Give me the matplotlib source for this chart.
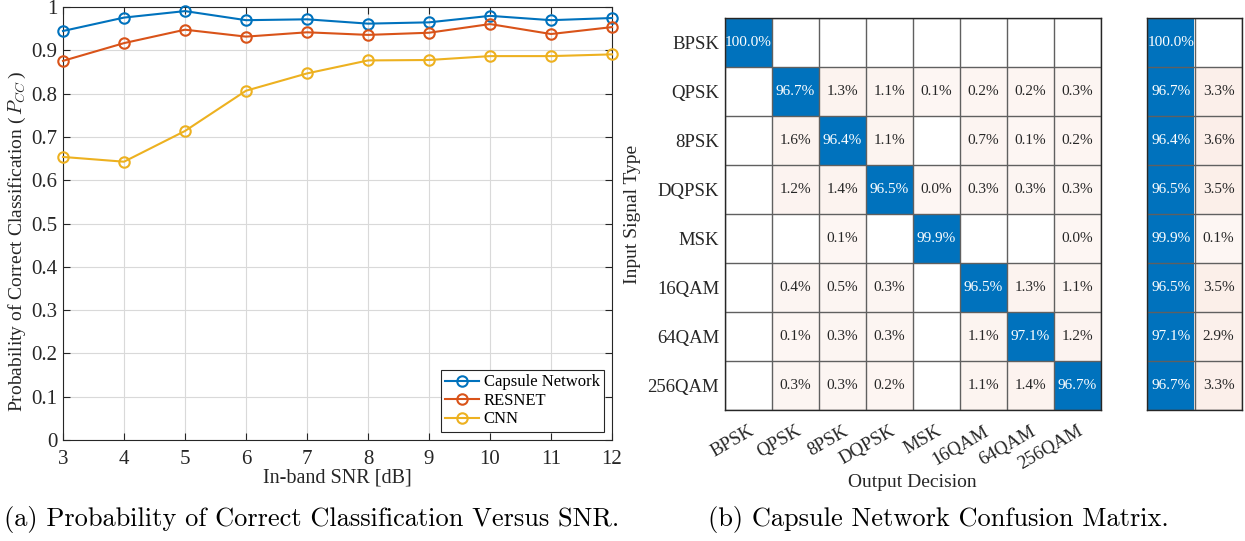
import numpy as np
import matplotlib.pyplot as plt
from matplotlib.colors import to_rgb
from matplotlib.ticker import FuncFormatter

# accuracy versus SNR
snr = [3, 4, 5, 6, 7, 8, 9, 10, 11, 12]
capsule = [0.945, 0.976, 0.991, 0.970, 0.972, 0.962, 0.965, 0.980, 0.970, 0.975]
resnet = [0.876, 0.917, 0.948, 0.932, 0.942, 0.936, 0.941, 0.961, 0.938, 0.954]
cnn = [0.654, 0.643, 0.714, 0.807, 0.847, 0.877, 0.878, 0.887, 0.887, 0.891]

# confusion matrix (percent of each input class), nan = no samples
classes = ['BPSK', 'QPSK', '8PSK', 'DQPSK', 'MSK', '16QAM', '64QAM', '256QAM']
n = np.nan
conf = np.array([
    [100.0, n, n, n, n, n, n, n],
    [n, 96.7, 1.3, 1.1, 0.1, 0.2, 0.2, 0.3],
    [n, 1.6, 96.4, 1.1, n, 0.7, 0.1, 0.2],
    [n, 1.2, 1.4, 96.5, 0.0, 0.3, 0.3, 0.3],
    [n, n, 0.1, n, 99.9, n, n, 0.0],
    [n, 0.4, 0.5, 0.3, n, 96.5, 1.3, 1.1],
    [n, 0.1, 0.3, 0.3, n, 1.1, 97.1, 1.2],
    [n, 0.3, 0.3, 0.2, n, 1.1, 1.4, 96.7],
])
row_correct = [100.0, 96.7, 96.4, 96.5, 99.9, 96.5, 97.1, 96.7]
row_wrong = [n, 3.3, 3.6, 3.5, 0.1, 3.5, 2.9, 3.3]

BLUE = '#0072BD'
ORANGE = '#D95319'
YELLOW = '#EDB120'
AXC = '#262626'

plt.rcParams['font.family'] = ['Liberation Serif', 'DejaVu Serif']
plt.rcParams['mathtext.fontset'] = 'cm'

fig = plt.figure(figsize=(12.45, 5.41), dpi=100)

# ---- (a) line plot ----
ax1 = fig.add_axes([0.0506, 0.1867, 0.441, 0.800])
for y, c, lab in [(capsule, BLUE, 'Capsule Network'),
                  (resnet, ORANGE, 'RESNET'),
                  (cnn, YELLOW, 'CNN')]:
    ax1.plot(snr, y, '-o', color=c, lw=1.5, ms=7.5, mfc='none', mew=1.5,
             label=lab, clip_on=False, zorder=3)
ax1.set_xlim(3, 12)
ax1.set_ylim(0, 1)
ax1.set_xticks(snr)
ax1.set_yticks(np.arange(0, 1.01, 0.1))
ax1.yaxis.set_major_formatter(FuncFormatter(lambda v, p: f'{v:g}'))
ax1.grid(True, color='#d9d9d9', lw=0.8)
ax1.set_axisbelow(True)
ax1.tick_params(direction='in', top=True, right=True, length=5, width=0.8,
                labelsize=15, colors=AXC)
ax1.tick_params(axis='x', pad=7)
ax1.tick_params(axis='y', pad=4)
for s in ax1.spines.values():
    s.set_color(AXC)
    s.set_linewidth(0.8)
ax1.set_xlabel('In-band SNR [dB]', fontsize=14.5, color=AXC, labelpad=0)
ax1.set_ylabel(r'Probability of Correct Classification ($\,P_{CC}\,$)',
               fontsize=14, color=AXC)
ax1.yaxis.set_label_coords(-0.063, 0.46)
leg = ax1.legend(loc='lower right', fontsize=12, handlelength=2.0,
                 handletextpad=0.3, borderpad=0.25, labelspacing=0.15,
                 fancybox=False, framealpha=1, borderaxespad=0.5)
leg.get_frame().set_edgecolor(AXC)
leg.get_frame().set_linewidth(0.8)


def cell_color(v, diag):
    if np.isnan(v):
        return (1, 1, 1)
    if diag:
        return to_rgb(BLUE)
    a = 0.05 + 0.012 * v
    o = np.array(to_rgb(ORANGE))
    return tuple(1 - a * (1 - o))


def draw_matrix(ax, vals, diag_mask):
    rows, cols = vals.shape
    img = np.ones((rows, cols, 3))
    for i in range(rows):
        for j in range(cols):
            img[i, j] = cell_color(vals[i, j], diag_mask[i, j])
            v = vals[i, j]
            if not np.isnan(v):
                ax.text(j, i, f'{v:.1f}%', ha='center', va='center',
                        fontsize=11,
                        color='white' if diag_mask[i, j] else AXC)
    ax.imshow(img, aspect='auto', interpolation='nearest')
    for k in np.arange(-0.5, cols, 1.0):
        ax.axvline(k, color='#606060', lw=1.0)
    for k in np.arange(-0.5, rows, 1.0):
        ax.axhline(k, color='#606060', lw=1.0)
    for s in ax.spines.values():
        s.set_color(AXC)
        s.set_linewidth(1.0)
    ax.set_xlim(-0.5, cols - 0.5)
    ax.set_ylim(rows - 0.5, -0.5)


# ---- (b) confusion matrix ----
ax2 = fig.add_axes([0.5821, 0.2421, 0.302, 0.724])
draw_matrix(ax2, conf, np.eye(len(classes), dtype=bool))
ax2.set_xticks(range(len(classes)))
ax2.set_xticklabels(classes, rotation=30, ha='right', rotation_mode='anchor',
                    fontsize=13.5)
ax2.set_yticks(range(len(classes)))
ax2.set_yticklabels(classes, fontsize=13.5)
ax2.tick_params(length=0, colors=AXC)
ax2.tick_params(axis='x', pad=9)
ax2.tick_params(axis='y', pad=4)
ax2.set_xlabel('Output Decision', fontsize=14, color=AXC, labelpad=1)
ax2.set_ylabel('Input Signal Type', fontsize=14, color=AXC, labelpad=5)

# row summary: correct / incorrect
ax3 = fig.add_axes([0.9215, 0.2421, 0.0763, 0.724])
summary = np.column_stack([row_correct, row_wrong])
mask = np.zeros_like(summary, dtype=bool)
mask[:, 0] = True
draw_matrix(ax3, summary, mask)
ax3.set_xticks([])
ax3.set_yticks([])

# captions
fig.text(0.250, 0.039, '(a) Probability of Correct Classification Versus SNR.',
         ha='center', va='center', fontsize=19, family='cmr10')
fig.text(0.7535, 0.039, '(b) Capsule Network Confusion Matrix.',
         ha='center', va='center', fontsize=19, family='cmr10')

fig.savefig('out.png', dpi=100)
